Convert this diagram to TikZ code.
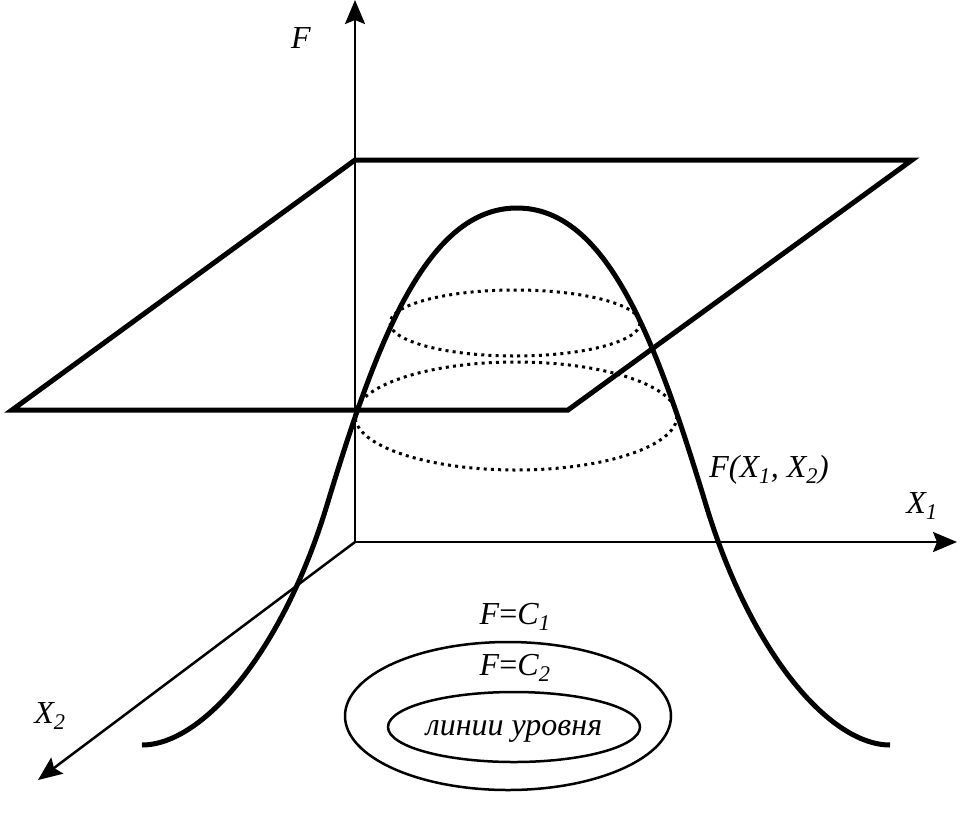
\documentclass[tikz,border=0pt]{standalone}
\usepackage{fontspec}
\setmainfont{Liberation Serif}
\usetikzlibrary{arrows.meta}
\begin{document}
\begin{tikzpicture}[x=1pt,y=-1pt,
  axisline/.style={line width=2.5pt,-{Stealth[length=24pt,width=20pt,inset=4pt]}},
  heavy/.style={line width=5pt, line join=miter},
  dotline/.style={line width=3pt, dash pattern=on 3pt off 4.2pt},
  thinline/.style={line width=2.5pt},
  lbl/.style={font=\fontsize{32}{38}\selectfont\itshape, inner sep=0pt}]
\useasboundingbox (0,0) rectangle (974,820);
% axes
\coordinate (O) at (355,542);
\coordinate (Ftip) at (355,0);
\coordinate (X1tip) at (957,542);
\coordinate (X2tip) at (38,780);
\draw[axisline] (O) -- (Ftip);
\draw[axisline] (O) -- (X1tip);
\draw[axisline] (O) -- (X2tip);
% plane
\coordinate (P1) at (355,160);
\coordinate (P2) at (912,160);
\coordinate (P3) at (568,410);
\coordinate (P4) at (12,410);
\draw[heavy] (P1) -- (P2) -- (P3) -- (P4) -- cycle;
% dotted level ellipses on surface
\draw[dotline] (515,323) ellipse [x radius=125, y radius=33];
\draw[dotline] (516,416) ellipse [x radius=161, y radius=54];
% bell surface profile
\coordinate (Bl) at (142,745);
\coordinate (Il) at (327,505);
\coordinate (Top) at (517,208);
\coordinate (Ir) at (706,505);
\coordinate (Br) at (890,745);
\draw[heavy, line cap=butt] (Bl) .. controls (202,745) and (282,653.5) .. (Il)
  .. controls (377,340) and (427,208) .. (Top)
  .. controls (607,208) and (656,340) .. (Ir)
  .. controls (751,653.5) and (830,745) .. (Br);
% level lines below
\draw[thinline] (508,716) ellipse [x radius=163, y radius=74];
\draw[thinline] (514,727) ellipse [x radius=126, y radius=35];
% labels
\node[lbl] (lF) at (301,38) {F};
\node[lbl] (lX1) at (922,506) {X\textsubscript{1}};
\node[lbl] (lX2) at (50,716) {X\textsubscript{2}};
\node[lbl] (lFX) at (769,470) {F(X\textsubscript{1}, X\textsubscript{2})};
\node[lbl] (lC1) at (515,617) {F\textup{=}C\textsubscript{1}};
\node[lbl] (lC2) at (515,668) {F\textup{=}C\textsubscript{2}};
\node[lbl] (lLev) at (514,731) {линии уровня};
\end{tikzpicture}
\end{document}
